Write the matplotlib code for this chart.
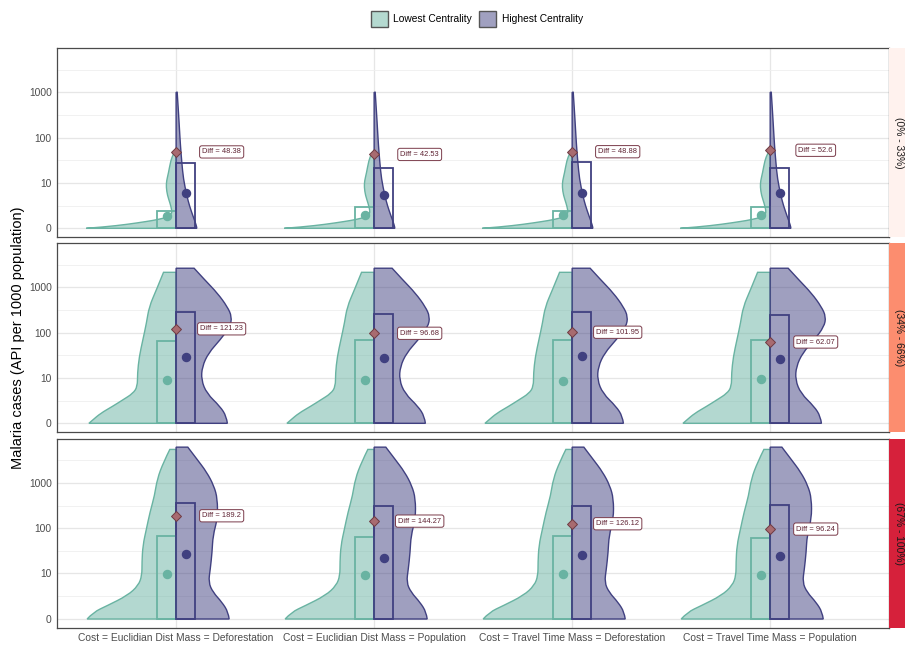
import numpy as np
import matplotlib.pyplot as plt
from matplotlib.patches import Rectangle, Patch, PathPatch
from matplotlib.path import Path
from matplotlib.ticker import NullFormatter

plt.rcParams['font.family'] = ['Liberation Sans', 'DejaVu Sans']

categories = ['Cost = Euclidian Dist Mass = Deforestation',
              'Cost = Euclidian Dist Mass = Population',
              'Cost = Travel Time Mass = Deforestation',
              'Cost = Travel Time Mass = Population']
groups = ['(0% - 33%)', '(34% - 66%)', '(67% - 100%)']
strip_colors = ['#fff2ee', '#fc8d6f', '#d6213b']

# summary values per forest-loss group (rows) and scenario (columns)
low_bar = [[2.0, 2.6, 2.0, 2.6], [64, 68, 68, 68], [68, 65, 68, 62]]
high_bar = [[26.9, 21.2, 28.7, 21.2], [288, 253, 280, 245], [361, 315, 305, 330]]
low_point = [[1.3, 1.4, 1.4, 1.4], [9.0, 9.0, 8.5, 9.2], [9.5, 9.3, 9.8, 9.3]]
high_point = [[5.9, 5.2, 5.9, 5.9], [29.2, 27.3, 29.8, 26.4], [27.3, 22.3, 26.0, 24.7]]
high_lo = [[5.3, 4.7, 5.3, 5.3], [25.5, 24.0, 26.0, 23.0], [24.0, 19.5, 22.5, 21.5]]
high_hi = [[6.6, 5.8, 6.6, 6.6], [33.5, 31.0, 34.0, 30.0], [31.0, 25.5, 30.0, 28.5]]
diffs = [[48.38, 42.53, 48.88, 52.6], [121.23, 96.68, 101.95, 62.07],
         [189.2, 144.27, 126.12, 96.24]]

# density profiles of API (cases per 1000) for each row
low_lvl = [
    [0, 0.138, 0.408, 0.705, 0.903, 1.216, 1.61, 2.11, 3.27, 5.18, 8.0, 11.1, 16.2, 31.6, 43.6, 47.8],
    [0, 0.32, 1.06, 1.92, 3.01, 4.35, 6.30, 12.5, 29.5, 69.2, 162, 372, 871, 2138],
    [0, 0.71, 1.44, 3.01, 5.31, 9.01, 17.7, 41.7, 97.7, 229, 525, 1230, 2884, 5495],
]
low_dens = [
    [1.0, 0.80, 0.54, 0.33, 0.21, 0.09, 0.05, 0.048, 0.067, 0.097, 0.11, 0.106, 0.086, 0.059, 0.03, 0.017],
    [0.97, 0.93, 0.84, 0.71, 0.59, 0.48, 0.43, 0.43, 0.41, 0.37, 0.33, 0.30, 0.22, 0.14],
    [0.99, 0.92, 0.77, 0.54, 0.42, 0.38, 0.38, 0.37, 0.33, 0.29, 0.24, 0.21, 0.14, 0.07],
]
high_lvl = [
    [0, 0.092, 0.60, 1.38, 2.85, 5.06, 12.2, 28.8, 67.6, 158, 372, 1000],
    [0, 0.71, 1.92, 4.35, 9.01, 17.7, 35.5, 69.2, 135, 224, 372, 741, 1445, 2630],
    [0, 0.71, 1.92, 3.63, 6.30, 12.5, 29.5, 69.2, 162, 447, 871, 1738, 3388, 6166],
]
high_dens = [
    [0.23, 0.23, 0.214, 0.186, 0.148, 0.119, 0.081, 0.063, 0.048, 0.037, 0.026, 0.012],
    [0.57, 0.56, 0.49, 0.34, 0.28, 0.29, 0.36, 0.49, 0.60, 0.62, 0.57, 0.46, 0.32, 0.20],
    [0.59, 0.58, 0.51, 0.41, 0.36, 0.38, 0.40, 0.41, 0.46, 0.46, 0.42, 0.34, 0.23, 0.13],
]

green = '#69b3a2'
purple = '#404080'
vwidth = 0.454
bw = 0.097

W, H = 905, 645
fig = plt.figure(figsize=(W / 100, H / 100), dpi=100)

left, right = 57.3, 889
panel_tops = [48.3, 243.3, 439.0]
panel_h = 188.6


def half_violin(ax, x, lvl, dens, side, color):
    # outline as quadratic curves through midpoints, taken in scale space
    ytr = ax.yaxis.get_transform()
    yinv = ytr.inverted()
    ys = np.asarray(lvl, float)
    xs = x + np.asarray(dens, float) * vwidth * side
    ts = ytr.transform(ys.reshape(-1, 1)).ravel()
    mx = (xs[1:] + xs[:-1]) / 2
    my = yinv.transform(((ts[1:] + ts[:-1]) / 2).reshape(-1, 1)).ravel()
    verts = [(x, ys[0]), (xs[0], ys[0])]
    codes = [Path.MOVETO, Path.LINETO]
    n = len(xs)
    for i in range(1, n - 1):
        end = (xs[-1], ys[-1]) if i == n - 2 else (mx[i], my[i])
        verts += [(xs[i], ys[i]), end]
        codes += [Path.CURVE3, Path.CURVE3]
    verts += [(x, ys[-1]), (x, ys[0])]
    codes += [Path.LINETO, Path.CLOSEPOLY]
    path = Path(verts, codes)
    ax.add_patch(PathPatch(path, facecolor=color, alpha=0.5, edgecolor='none', zorder=2))
    ax.add_patch(PathPatch(path, facecolor='none', edgecolor=color, lw=1.0, zorder=3))


for r in range(3):
    ax = fig.add_axes([left / W, 1 - (panel_tops[r] + panel_h) / H,
                       (right - left) / W, panel_h / H])
    ax.set_yscale('asinh', linear_width=2)
    ax.set_xlim(0.4, 4.6)
    ax.set_ylim(-0.9, 9330)
    ax.set_yticks([0, 10, 100, 1000])
    ax.set_yticklabels(['0', '10', '100', '1000'])
    ax.set_yticks([2.85, 31.6, 316, 3162], minor=True)
    ax.yaxis.set_minor_formatter(NullFormatter())
    ax.set_xticks(range(1, 5))
    if r == 2:
        ax.set_xticklabels(categories)
    else:
        ax.set_xticklabels([])
    ax.tick_params(which='both', length=0, labelsize=7.4, labelcolor='#4d4d4d', pad=4)
    ax.grid(which='major', color='#e6e6e6', lw=0.9)
    ax.grid(which='minor', axis='y', color='#efefef', lw=0.6)
    ax.set_axisbelow(True)
    for s in ax.spines.values():
        s.set_color('#4a4a4a')
        s.set_linewidth(0.9)

    for c in range(4):
        x = c + 1
        half_violin(ax, x, low_lvl[r], low_dens[r], -1, green)
        half_violin(ax, x, high_lvl[r], high_dens[r], 1, purple)
        ax.add_patch(Rectangle((x - bw, 0), bw, low_bar[r][c], facecolor='none',
                               edgecolor=green, lw=1.3, zorder=4))
        ax.add_patch(Rectangle((x, 0), bw, high_bar[r][c], facecolor='none',
                               edgecolor=purple, lw=1.3, zorder=4))
        ax.plot([x - bw / 2], [low_point[r][c]], 'o', color=green, ms=5.8, zorder=5)
        ax.plot([x + bw / 2, x + bw / 2], [high_lo[r][c], high_hi[r][c]],
                color=purple, lw=1.0, zorder=5)
        ax.plot([x + bw / 2], [high_point[r][c]], 'o', color=purple, ms=5.8, zorder=5)
        ax.plot([x], [diffs[r][c]], 'D', color='#a86b70', mec='#6e3a42',
                mew=0.7, ms=4.8, zorder=6)
        ax.text(x + 0.23, diffs[r][c], f'Diff = {diffs[r][c]}', ha='center',
                va='center', fontsize=5.4, color='#5e2232', zorder=7,
                bbox=dict(boxstyle='round,pad=0.35,rounding_size=0.3', fc='white',
                          ec='#7a3b4a', lw=0.7))

    sax = fig.add_axes([right / W, 1 - (panel_tops[r] + panel_h) / H,
                        (W - right) / W, panel_h / H])
    sax.set_facecolor(strip_colors[r])
    sax.set_xticks([])
    sax.set_yticks([])
    for s in sax.spines.values():
        s.set_visible(False)
    sax.text(0.6, 0.5, groups[r], rotation=270, ha='center', va='center',
             fontsize=7.4, color='#1a1a1a', transform=sax.transAxes)

fig.text(18 / W, 1 - 338 / H, 'Malaria cases (API per 1000 population)',
         rotation=90, ha='center', va='center', fontsize=10.5)

handles = [Patch(facecolor='#b4d9d0', edgecolor='#555555', lw=1.0, label='Lowest Centrality'),
           Patch(facecolor='#a0a0c0', edgecolor='#555555', lw=1.0, label='Highest Centrality')]
fig.legend(handles=handles, loc='center', bbox_to_anchor=(477 / W, 1 - 19 / H),
           ncol=2, frameon=False, fontsize=7.4, handlelength=1.65, handleheight=1.9,
           handletextpad=0.5, columnspacing=0.7)

fig.savefig('out.png', dpi=100)
